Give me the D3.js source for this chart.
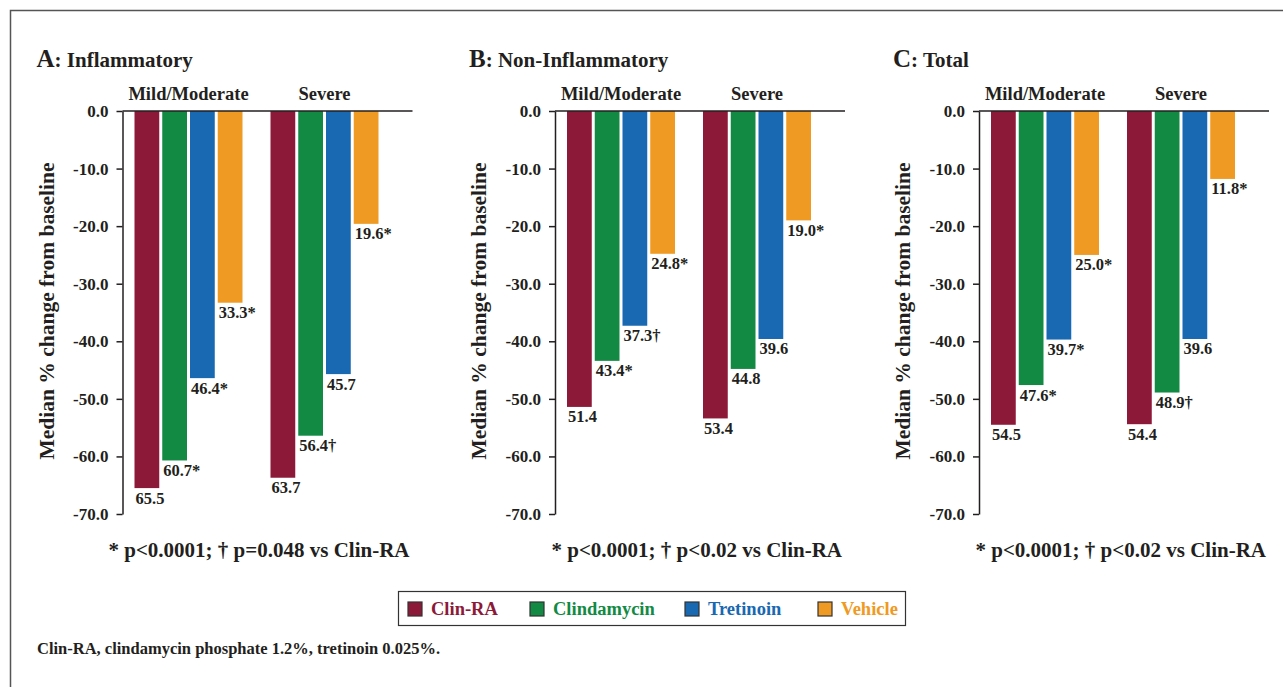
<!DOCTYPE html>
<html><head><meta charset="utf-8">
<script src="https://cdn.jsdelivr.net/npm/d3@7"></script>
<style>
html,body{margin:0;padding:0;background:#fff;}
svg text{font-family:"Liberation Serif","Times New Roman",serif;font-weight:bold;fill:#231F20;}
</style></head>
<body>
<svg id="chart" width="1283" height="687"></svg>
<script>
// ---- data ----
const panelLetters = ["A", "B", "C"];
const panelTitles = ["Inflammatory", "Non-Inflammatory", "Total"];
const groups = ["Mild/Moderate", "Severe"];
const series = ["Clin-RA", "Clindamycin", "Tretinoin", "Vehicle"];
const inflammatory = [[-65.5, -60.7, -46.4, -33.3], [-63.7, -56.4, -45.7, -19.6]];
const inflammatoryMarks = [["", "*", "*", "*"], ["", "†", "", "*"]];
const nonInflammatory = [[-51.4, -43.4, -37.3, -24.8], [-53.4, -44.8, -39.6, -19.0]];
const nonInflammatoryMarks = [["", "*", "†", "*"], ["", "", "", "*"]];
const total = [[-54.5, -47.6, -39.7, -25.0], [-54.4, -48.9, -39.6, -11.8]];
const totalMarks = [["", "*", "*", "*"], ["", "†", "", "*"]];
const yTicks = [0, -10, -20, -30, -40, -50, -60, -70];
const footnotes = ["* p<0.0001; † p=0.048 vs Clin-RA", "* p<0.0001; † p<0.02 vs Clin-RA", "* p<0.0001; † p<0.02 vs Clin-RA"];
const yTitle = "Median % change from baseline";
const bottomNote = "Clin-RA, clindamycin phosphate 1.2%, tretinoin 0.025%.";
const colors = ["#8C1938", "#128A44", "#1968B2", "#EF9A22"];

const panelValues = [inflammatory, nonInflammatory, total];
const panelMarks = [inflammatoryMarks, nonInflammatoryMarks, totalMarks];

// ---- layout ----
const svg = d3.select("#chart");
const axisXs = [122.5, 555, 979];
const plotW = 290;
const yTop = 111, yBot = 514;
const ink = "#231F20";

// frame
svg.append("path").attr("d", "M10.5,700 V10.5 H1290").attr("fill", "none").attr("stroke", "#555").attr("stroke-width", 1.5);

const y = d3.scaleLinear().domain([-70, 0]).range([yBot, yTop]);

panelLetters.forEach((L, pi) => {
  const ax = axisXs[pi];
  const g = svg.append("g");
  const x0 = d3.scaleBand().domain(groups).range([ax + 12, ax + 256]).paddingInner(28 / 136).paddingOuter(0);
  const x1 = d3.scaleBand().domain(series).range([0, x0.bandwidth()]).paddingInner(0.108).paddingOuter(0);

  // title
  const t = g.append("text").attr("x", ax - 86).attr("y", 67);
  t.append("tspan").attr("font-size", 25).text(L);
  t.append("tspan").attr("font-size", 21).text(": " + panelTitles[pi]);

  // group labels
  g.selectAll(".grp").data(groups).join("text")
    .attr("x", d => x0(d) + x0.bandwidth() / 2).attr("y", 100)
    .attr("text-anchor", "middle").attr("font-size", 18.5).text(d => d);

  // bars
  const vals = panelValues[pi], marks = panelMarks[pi];
  groups.forEach((gr, gi) => {
    series.forEach((s, si) => {
      const v = vals[gi][si];
      g.append("rect")
        .attr("x", x0(gr) + x1(s)).attr("y", y(0))
        .attr("width", x1.bandwidth()).attr("height", y(v) - y(0))
        .attr("fill", colors[si]);
      g.append("text")
        .attr("x", x0(gr) + x1(s) + 1).attr("y", y(v) + 15.5)
        .attr("font-size", 16.5).text(Math.abs(v).toFixed(1) + marks[gi][si]);
    });
  });

  // y axis
  const axis = d3.axisLeft(y).tickValues(yTicks).tickFormat(d => d.toFixed(1)).tickSize(6).tickSizeOuter(0).tickPadding(8);
  const ag = g.append("g").attr("transform", `translate(${ax},0)`).call(axis);
  ag.select(".domain").attr("stroke", ink).attr("stroke-width", 1.5);
  ag.selectAll(".tick line").attr("stroke", ink).attr("stroke-width", 1.5);
  ag.selectAll(".tick text").attr("font-size", 17).attr("font-family", null).attr("fill", ink);

  // zero line
  g.append("line").attr("x1", ax).attr("x2", ax + plotW).attr("y1", y(0)).attr("y2", y(0))
    .attr("stroke", ink).attr("stroke-width", 1.5);

  // y title
  g.append("text").attr("transform", `translate(${ax - 69},${311}) rotate(-90)`)
    .attr("text-anchor", "middle").attr("font-size", 21.5).text(yTitle);

  // footnote
  g.append("text").attr("x", ax + 287).attr("y", 557).attr("text-anchor", "end")
    .attr("font-size", 21).text(footnotes[pi]);
});

// legend
const lg = svg.append("g");
lg.append("rect").attr("x", 398.5).attr("y", 591.5).attr("width", 507).attr("height", 34)
  .attr("fill", "#fff").attr("stroke", "#333").attr("stroke-width", 1.2);
const legX = [408, 530, 685, 818];
series.forEach((s, i) => {
  lg.append("rect").attr("x", legX[i]).attr("y", 602).attr("width", 14).attr("height", 14)
    .attr("fill", colors[i]).attr("stroke", "#333").attr("stroke-width", 1.2);
  lg.append("text").attr("x", legX[i] + 23).attr("y", 614.5).attr("font-size", 18.5)
    .style("fill", colors[i]).text(s);
});

// bottom note
svg.append("text").attr("x", 37).attr("y", 654).attr("font-size", 16.5).text(bottomNote);
</script>
</body></html>
